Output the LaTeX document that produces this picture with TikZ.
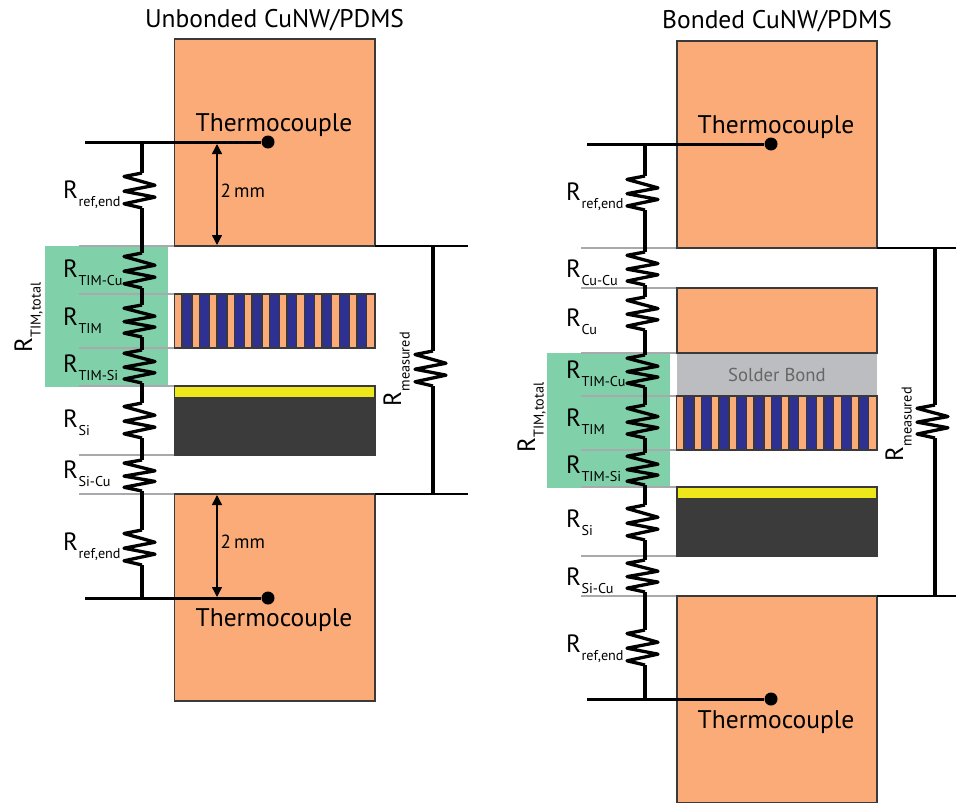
\documentclass[tikz,border=0pt]{standalone}
\usepackage{fontspec}
\setmainfont{PT Sans}
\usetikzlibrary{arrows.meta}
\definecolor{copper}{HTML}{FAAB78}
\definecolor{stripe}{HTML}{2E3192}
\definecolor{tealfill}{HTML}{80D1A9}
\definecolor{sil}{HTML}{3B3B3C}
\definecolor{gold}{HTML}{EEE81B}
\definecolor{solder}{HTML}{BCBDC0}
\definecolor{guide}{HTML}{A7A9AC}
\definecolor{edge}{HTML}{3A3A3A}
\tikzset{
  boxed/.style={draw=edge,line width=1.4pt},
  cu/.style={boxed,fill=copper},
  guideline/.style={draw=guide,line width=1.5pt},
  wire/.style={draw=black,line width=3.3pt,line join=miter},
  thin wire/.style={draw=black,line width=3pt},
  dim/.style={draw=black,line width=1.4pt,{Triangle[width=10pt,length=10pt]}-{Triangle[width=10pt,length=10pt]}},
  big/.style={inner sep=0pt,font=\fontsize{25.5}{28}\selectfont},
  lbl/.style={inner sep=0pt,anchor=base west},
  small/.style={inner sep=0pt,font=\fontsize{19}{20}\selectfont},
}
\newcommand{\Rlab}[1]{{\fontsize{25}{28}\selectfont R}\kern0.5pt\raisebox{-8.5pt}{\fontsize{14.2}{18}\selectfont #1}}
\newcommand{\resistor}[4]{% name, x, top, bottom
  \coordinate (#1-t) at (#2,#3);
  \coordinate (#1-b) at (#2,#4);
  \pgfmathsetmacro{\hh}{#4-#3}
  \draw[wire,line join=round] (#2,#3)
    -- ++(-18,0.10*\hh) -- ++(31,0.25*\hh) -- ++(-31,0.17*\hh)
    -- ++(31,0.17*\hh) -- ++(-31,0.19*\hh) -- (#2,#4);
}
\newcommand{\tim}[2]{% left x, top y
  \fill[copper] (#1,#2) rectangle ++(201,54);
  \foreach \i in {0,...,10} \fill[stripe] ({#1+7.6+\i*17.48},#2) rectangle ++(9.8,54);
  \foreach \i in {0,...,11}{\draw[edge,line width=1.4pt] ({#1+7.6+\i*17.48},#2) -- ++(0,54);
     \ifnum\i<11 \draw[edge,line width=1.4pt] ({#1+17.4+\i*17.48},#2) -- ++(0,54);\fi}
  \draw[boxed] (#1,#2) rectangle ++(201,54);
}
\begin{document}
\begin{tikzpicture}[x=1pt,y=-1pt]
\useasboundingbox (0,0) rectangle (956,803);
% ---------- left ----------
\fill[tealfill] (45,246) rectangle (167.5,386.5);
\foreach \y in {246,294,348,386,455,494} \draw[guideline] (79,\y) -- (174,\y);
\draw[cu] (174.5,39) rectangle (375,246);
\draw[cu] (174.5,494) rectangle (375,701);
\tim{174.5}{294}
\draw[boxed,fill=sil] (174.5,398) rectangle (375,455);
\draw[boxed,fill=gold] (174.5,386) rectangle (375,398);
\draw[black,line width=1.5pt] (375,246) -- (468,246);
\draw[black,line width=1.5pt] (375,494) -- (468,494);
\coordinate (jt) at (142,142); \coordinate (jb) at (142,598);
\resistor{a1}{142}{173}{208}
\resistor{a2}{142}{253}{288}
\resistor{a3}{142}{305}{337}
\resistor{a4}{142}{350}{383}
\resistor{a5}{142}{403}{438}
\resistor{a6}{142}{460}{491}
\resistor{a7}{142}{530}{565}
\draw[wire] (jt) -- (a1-t) (a1-b) -- (a2-t) (a2-b) -- (a3-t) (a3-b) -- (a4-t)
  (a4-b) -- (a5-t) (a5-b) -- (a6-t) (a6-b) -- (a7-t) (a7-b) -- (jb);
\coordinate (tl1) at (85,142); \coordinate (tl2) at (85,598);
\node[circle,fill=black,inner sep=0pt,minimum size=13pt] (da) at (268,142) {};
\node[circle,fill=black,inner sep=0pt,minimum size=13pt] (db) at (268,598) {};
\draw[thin wire] (tl1) -- (da); \draw[thin wire] (tl2) -- (db);
\coordinate (m1t) at (433,246); \coordinate (m1b) at (433,494);
\resistor{am}{433}{351}{386}
\draw[wire] (m1t) -- (am-t) (am-b) -- (m1b);
\coordinate (d1t) at (217,144); \coordinate (d1b) at (217,245);
\coordinate (d2t) at (217,495); \coordinate (d2b) at (217,597);
\draw[dim] (d1t) -- (d1b); \draw[dim] (d2t) -- (d2b);
\node[small,anchor=west] (mm1) at (220.5,191) {2\,mm};
\node[small,anchor=west] (mm2) at (220.5,542) {2\,mm};
\node[big] (tc1) at (274,125) {Thermocouple};
\node[big] (tc2) at (274,620.5) {Thermocouple};
\node[big] (ta) at (274.5,20.5) {Unbonded CuNW/PDMS};
\node[lbl] (la1) at (63,198) {\Rlab{ref,end}};
\node[lbl] (la2) at (63,277) {\Rlab{TIM-Cu}};
\node[lbl] (la3) at (63,325) {\Rlab{TIM}};
\node[lbl] (la4) at (63,372) {\Rlab{TIM-Si}};
\node[lbl] (la5) at (63,427) {\Rlab{Si}};
\node[lbl] (la6) at (63,478) {\Rlab{Si-Cu}};
\node[lbl] (la7) at (63,550) {\Rlab{ref,end}};
\node[lbl,rotate=90] (lat) at (32,353) {\Rlab{TIM,total}};
\node[lbl,rotate=90] (lam) at (401,407) {\Rlab{measured}};
% ---------- right ----------
\fill[tealfill] (547,353) rectangle (670,488);
\foreach \y in {248,288,353,396,450,487,556,596} \draw[guideline] (581,\y) -- (677,\y);
\draw[cu] (677,41) rectangle (877,248);
\draw[cu] (677,596) rectangle (877,803);
\draw[cu] (677,288) rectangle (877,353);
\fill[solder] (677,354) rectangle (877,396);
\tim{676.5}{396}
\draw[boxed,fill=sil] (677,499) rectangle (877,556);
\draw[boxed,fill=gold] (677,487) rectangle (877,499);
\draw[black,line width=1.5pt] (877,248) -- (956,248);
\draw[black,line width=1.5pt] (877,596) -- (956,596);
\coordinate (kt) at (645,144); \coordinate (kb) at (645,699);
\resistor{b1}{645}{176}{210}
\resistor{b2}{645}{252}{285}
\resistor{b3}{645}{297}{330}
\resistor{b4}{645}{355}{387}
\resistor{b5}{645}{405}{438}
\resistor{b6}{645}{453}{485}
\resistor{b7}{645}{505}{540}
\resistor{b8}{645}{560}{592}
\resistor{b9}{645}{630}{665}
\draw[wire] (kt) -- (b1-t) (b1-b) -- (b2-t) (b2-b) -- (b3-t) (b3-b) -- (b4-t)
  (b4-b) -- (b5-t) (b5-b) -- (b6-t) (b6-b) -- (b7-t) (b7-b) -- (b8-t) (b8-b) -- (b9-t) (b9-b) -- (kb);
\coordinate (tr1) at (587,144); \coordinate (tr2) at (587,699);
\node[circle,fill=black,inner sep=0pt,minimum size=13pt] (dc) at (771,144) {};
\node[circle,fill=black,inner sep=0pt,minimum size=13pt] (dd) at (771,699) {};
\draw[thin wire] (tr1) -- (dc); \draw[thin wire] (tr2) -- (dd);
\coordinate (m2t) at (935,248); \coordinate (m2b) at (935,596);
\resistor{bm}{935}{405}{438}
\draw[wire] (m2t) -- (bm-t) (bm-b) -- (m2b);
\node[big] (tc3) at (776,127) {Thermocouple};
\node[big] (tc4) at (776,722) {Thermocouple};
\node[big] (tb) at (777,21.5) {Bonded CuNW/PDMS};
\node[inner sep=0pt,font=\fontsize{18.7}{20}\selectfont,text=black!60] (sb) at (777,375) {Solder Bond};
\node[lbl] (lb1) at (566,200) {\Rlab{ref,end}};
\node[lbl] (lb2) at (566,277) {\Rlab{Cu-Cu}};
\node[lbl] (lb3) at (566,326) {\Rlab{Cu}};
\node[lbl] (lb4) at (566,378) {\Rlab{TIM-Cu}};
\node[lbl] (lb5) at (566,426) {\Rlab{TIM}};
\node[lbl] (lb6) at (566,473) {\Rlab{TIM-Si}};
\node[lbl] (lb7) at (566,527) {\Rlab{Si}};
\node[lbl] (lb8) at (566,585) {\Rlab{Si-Cu}};
\node[lbl] (lb9) at (566,652) {\Rlab{ref,end}};
\node[lbl,rotate=90] (lbt) at (535,453) {\Rlab{TIM,total}};
\node[lbl,rotate=90] (lbm) at (903,462) {\Rlab{measured}};
\end{tikzpicture}
\end{document}
